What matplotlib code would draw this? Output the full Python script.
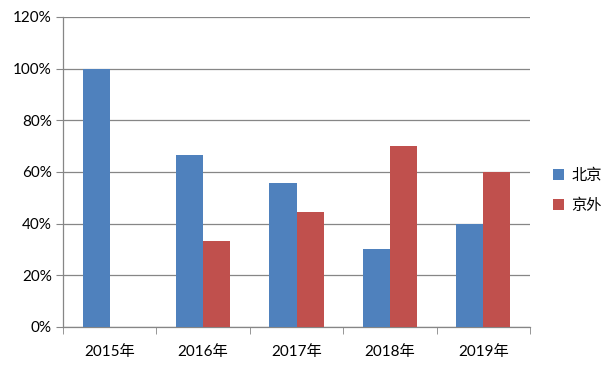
import numpy as np
import matplotlib.pyplot as plt
from matplotlib.ticker import PercentFormatter

plt.rcParams['font.family'] = ['Lato', 'Noto Sans CJK SC', 'DejaVu Sans']

# data
years = ['2015年', '2016年', '2017年', '2018年', '2019年']
beijing = [100.0, 66.7, 55.6, 30.0, 40.0]
outside = [0.0, 33.3, 44.4, 70.0, 60.0]
series_names = ['北京', '京外']

fig = plt.figure(figsize=(6.12, 3.77), dpi=100)
ax = fig.add_axes([0.103, 0.133, 0.763, 0.822])

x = np.arange(len(years))
w = 0.29
ax.bar(x - w / 2, beijing, w, color='#4F81BD', label=series_names[0], zorder=3)
ax.bar(x + w / 2, outside, w, color='#C0504D', label=series_names[1], zorder=3)

ax.set_xlim(-0.5, len(years) - 0.5)
ax.set_ylim(0, 120)
ax.set_yticks(np.arange(0, 121, 20))
ax.yaxis.set_major_formatter(PercentFormatter(decimals=0))
ax.grid(axis='y', color='#868686', linewidth=0.9, zorder=0)

ax.set_xticks(x)
ax.set_xticklabels(years, fontsize=11)
ax.set_xticks(np.arange(-0.5, len(years), 1), minor=True)
ax.tick_params(axis='x', which='major', length=0, pad=13)
ax.tick_params(axis='x', which='minor', length=5, color='#868686')
ax.tick_params(axis='y', length=5, color='#868686', labelsize=11, pad=3)

for s in ['top', 'right']:
    ax.spines[s].set_visible(False)
for s in ['left', 'bottom']:
    ax.spines[s].set_color('#868686')
    ax.spines[s].set_linewidth(0.9)

ax.legend(loc='center left', bbox_to_anchor=(1.02, 0.44), frameon=False,
          fontsize=11, handlelength=0.7, handleheight=0.7, labelspacing=1.0,
          handletextpad=0.5)

fig.savefig('out.png', dpi=100)
